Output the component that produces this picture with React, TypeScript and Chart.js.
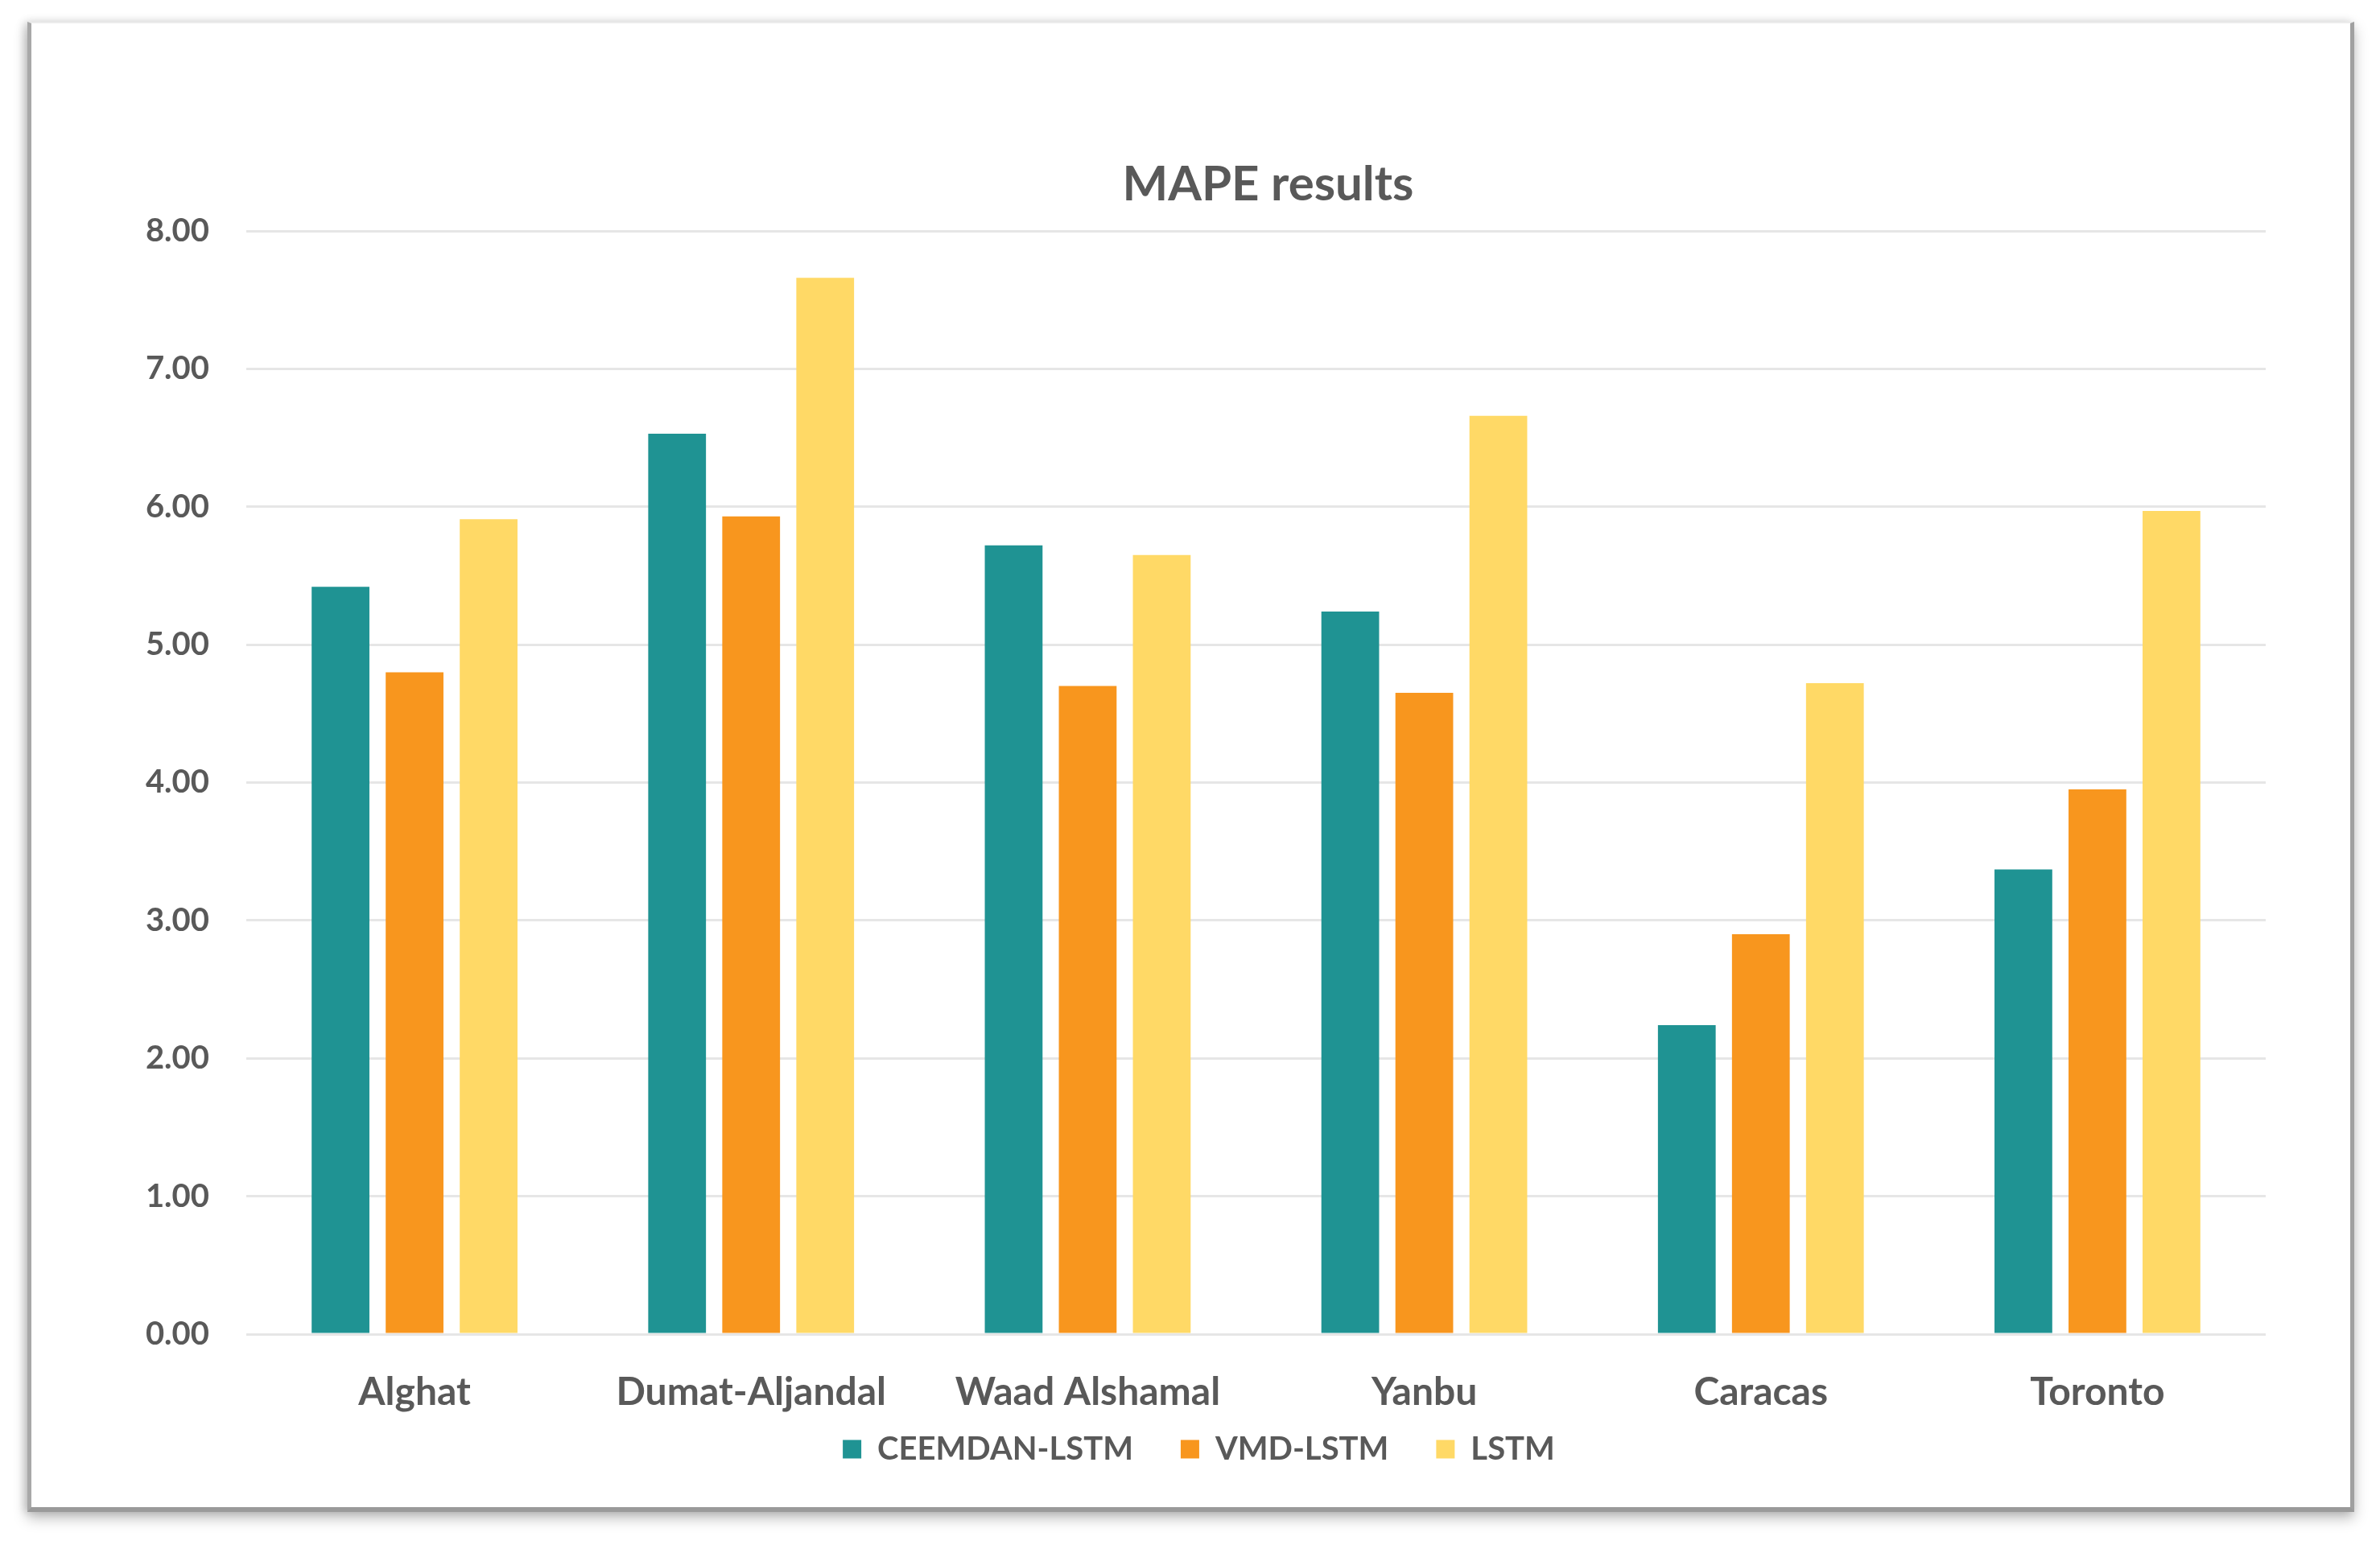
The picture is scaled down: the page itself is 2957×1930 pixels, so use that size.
import React, { useEffect, useRef } from 'react';
import { Chart, registerables } from 'chart.js';

Chart.register(...registerables);

const categories = ['Alghat', 'Dumat-Aljandal', 'Waad Alshamal', 'Yanbu', 'Caracas', 'Toronto'];
const ceemdanLstm = [5.42, 6.53, 5.72, 5.24, 2.24, 3.37];
const vmdLstm = [4.8, 5.93, 4.7, 4.65, 2.9, 3.95];
const lstm = [5.91, 7.66, 5.65, 6.66, 4.72, 5.97];
const seriesNames = ['CEEMDAN-LSTM', 'VMD-LSTM', 'LSTM'];
const seriesColors = ['#1F9393', '#F8961E', '#FFD966'];
const yMin = 0;
const yMax = 8;
const yStep = 1;
const titleText = 'MAPE results';

const W = 2957;
const H = 1930;
const FONT = 'Lato, "Open Sans", sans-serif';
const TEXT = '#595959';
const TITLE_DX = 118;
const LEGEND_DX = 32;
const LEGEND_DY = -46;

const shiftPlugin = {
  id: 'shiftBoxes',
  afterLayout(chart: any) {
    const t = chart.titleBlock;
    if (t) {
      t.left += TITLE_DX;
      t.right += TITLE_DX;
    }
    const l = chart.legend;
    if (l) {
      l.left += LEGEND_DX;
      l.right += LEGEND_DX;
      l.top += LEGEND_DY;
      l.bottom += LEGEND_DY;
    }
  },
};

export default function App() {
  const ref = useRef<HTMLCanvasElement | null>(null);

  useEffect(() => {
    const canvas = ref.current;
    if (!canvas) return;
    const series = [ceemdanLstm, vmdLstm, lstm];
    const chart = new Chart(canvas, {
      type: 'bar',
      data: {
        labels: categories,
        datasets: series.map((d, i) => ({
          label: seriesNames[i],
          data: d,
          backgroundColor: seriesColors[i],
          borderWidth: 0,
          categoryPercentage: 0.66,
          barPercentage: 0.78,
        })),
      },
      options: {
        animation: false,
        responsive: false,
        devicePixelRatio: 1,
        layout: { padding: { left: 100, right: 142, top: 0, bottom: 53 } },
        plugins: {
          title: {
            display: true,
            text: titleText,
            color: TEXT,
            font: { family: FONT, size: 60, weight: 'bold', lineHeight: 1.2 },
            padding: { top: 194, bottom: 21 },
          },
          legend: {
            display: true,
            position: 'bottom',
            labels: {
              color: TEXT,
              font: { family: FONT, size: 40, weight: 'bold' },
              boxWidth: 23,
              boxHeight: 23,
              padding: 59,
            },
          },
          tooltip: { enabled: false },
        },
        scales: {
          x: {
            grid: { display: false, drawTicks: false },
            border: { display: false },
            ticks: {
              color: TEXT,
              font: { family: FONT, size: 48, weight: 'bold' },
              padding: 44,
              maxRotation: 0,
            },
            afterFit: (s: any) => {
              s.height = 110;
            },
          },
          y: {
            min: yMin,
            max: yMax,
            grid: { color: '#E6E6E6', lineWidth: 3, drawTicks: false },
            border: { display: false },
            ticks: {
              stepSize: yStep,
              color: TEXT,
              font: { family: FONT, size: 40, weight: 'bold' },
              padding: 46,
              callback: (v: any) => Number(v).toFixed(2),
            },
            afterFit: (s: any) => {
              s.width = 206;
            },
          },
        },
      },
      plugins: [shiftPlugin],
    });
    return () => chart.destroy();
  }, []);

  return (
    <div style={{ position: 'fixed', left: 0, top: 0, width: W, height: H, background: '#fff', overflow: 'hidden' }}>
      <div
        style={{
          position: 'absolute',
          left: 34,
          top: 27,
          width: 2891,
          height: 1852,
          background: '#fff',
          borderTop: '2px solid #ececec',
          borderLeft: '5px solid #a8a8a8',
          borderRight: '5px solid #a0a0a0',
          borderBottom: '6px solid #9a9a9a',
          boxShadow: '0 8px 16px rgba(0,0,0,0.25), -4px 0 10px rgba(0,0,0,0.15)',
          boxSizing: 'border-box',
        }}
      />
      <canvas ref={ref} width={W} height={H} style={{ position: 'absolute', left: 0, top: 0, width: W, height: H }} />
    </div>
  );
}
